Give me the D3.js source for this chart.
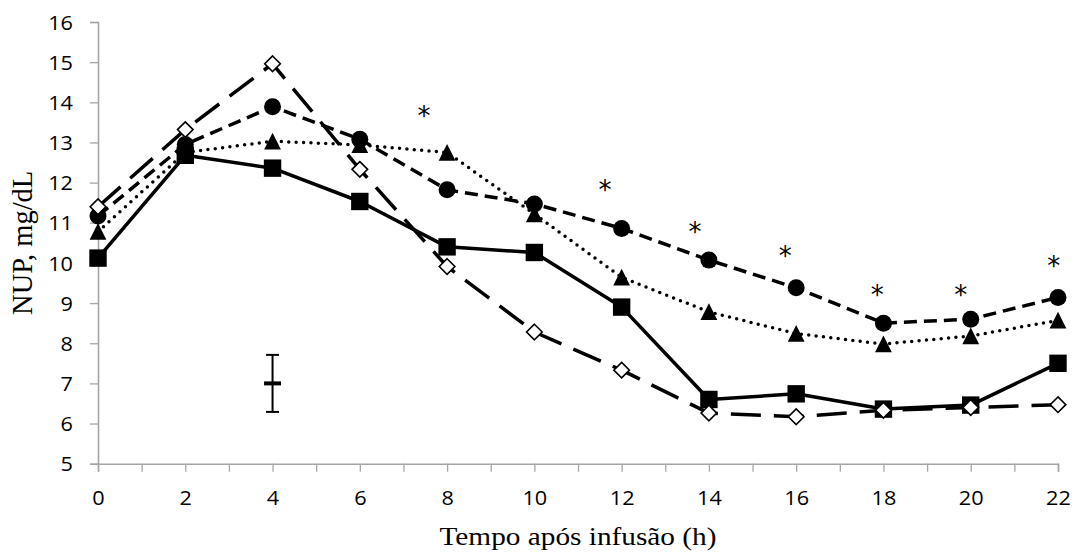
<!DOCTYPE html>
<html>
<head>
<meta charset="utf-8">
<script src="https://cdn.jsdelivr.net/npm/d3@7"></script>
<style>
  html, body { margin: 0; padding: 0; background: #fff; }
  svg { display: block; }
</style>
</head>
<body>
<svg id="chart" width="1079" height="555"></svg>
<script>
// ---- data ----
const times = [0, 2, 4, 6, 8, 10, 12, 14, 16, 18, 20, 22];
const squareSeries   = [10.12, 12.68, 12.36, 11.53, 10.40, 10.26, 8.90, 6.60, 6.74, 6.36, 6.46, 7.50];
const triangleSeries = [10.78, 12.75, 13.03, 12.94, 12.75, 11.22, 9.64, 8.78, 8.24, 7.98, 8.18, 8.57];
const circleSeries   = [11.17, 12.95, 13.89, 13.08, 11.82, 11.47, 10.86, 10.07, 9.38, 8.50, 8.60, 9.14];
const diamondSeries  = [11.40, 13.32, 14.96, 12.33, 9.91, 8.28, 7.33, 6.26, 6.17, 6.33, 6.40, 6.47];
const starTimes  = [7.47, 11.62, 13.68, 15.75, 17.86, 19.77, 21.9];
const starValues = [13.79, 11.95, 10.90, 10.32, 9.33, 9.33, 10.07];
const errorBarTime = 4, errorBarMean = 7.0, errorBarHalf = 0.71;
const xTicks = d3.range(0, 23, 1);
const yTicks = d3.range(5, 17, 1);
const xTitle = "Tempo após infusão (h)";
const yTitle = "NUP, mg/dL";

// ---- layout ----
const svg = d3.select("#chart");
const x = d3.scaleLinear().domain([0, 22]).range([98, 1058]);
const y = d3.scaleLinear().domain([5, 16]).range([463.7, 22]);
const axisColor = "#a6a6a6";
const tickFont = "'Open Sans', 'Lato', sans-serif";

// axes
const gx = svg.append("g").attr("transform", `translate(0,${y(5)})`)
  .call(d3.axisBottom(x).tickValues(xTicks).tickSize(8)
        .tickFormat(d => d % 2 === 0 ? d : ""));
gx.select(".domain").attr("stroke", axisColor).attr("stroke-width", 1.6);
gx.selectAll(".tick line").attr("stroke", axisColor).attr("stroke-width", 1.3);
gx.selectAll(".tick text").attr("y", 41.5).attr("dy", null)
  .attr("font-family", tickFont).attr("font-size", 20.5).attr("fill", "#000")
  .each(function() {
    const t = d3.select(this).text();
    if (t) d3.select(this).attr("textLength", 12.4 * t.length).attr("lengthAdjust", "spacingAndGlyphs");
  });

const gy = svg.append("g").attr("transform", `translate(${x(0)},0)`)
  .call(d3.axisLeft(y).tickValues(yTicks).tickSize(8).tickPadding(17));
gy.select(".domain").attr("stroke", axisColor).attr("stroke-width", 1.6);
gy.selectAll(".tick line").attr("stroke", axisColor).attr("stroke-width", 1.3);
gy.selectAll(".tick text").attr("dy", "0.35em")
  .attr("font-family", tickFont).attr("font-size", 20.5).attr("fill", "#000")
  .each(function() {
    const t = d3.select(this).text();
    d3.select(this).attr("textLength", 12.4 * t.length).attr("lengthAdjust", "spacingAndGlyphs");
  });

// titles
svg.append("text").attr("x", (x(0) + x(22)) / 2).attr("y", 545)
  .attr("text-anchor", "middle")
  .attr("font-family", "'Liberation Serif', 'Times New Roman', serif")
  .attr("font-size", 25.5)
  .attr("textLength", 277).attr("lengthAdjust", "spacingAndGlyphs")
  .text(xTitle);
svg.append("text")
  .attr("transform", `translate(32,${(y(5) + y(16)) / 2}) rotate(-90)`)
  .attr("text-anchor", "middle")
  .attr("font-family", "'Liberation Serif', 'Times New Roman', serif")
  .attr("font-size", 28.5).text(yTitle);

// lines
const line = d3.line().x((d, i) => x(times[i])).y(d => y(d));
const series = [
  { data: squareSeries,   dash: null,      cap: "butt",  marker: "square" },
  { data: triangleSeries, dash: "0 7.4",   cap: "round", marker: "triangle" },
  { data: circleSeries,   dash: "13 7",    cap: "butt",  marker: "circle" },
  { data: diamondSeries,  dash: "30 13",   cap: "butt",  marker: "diamond" }
];

series.forEach(s => {
  svg.append("path").datum(s.data)
    .attr("d", line).attr("fill", "none").attr("stroke", "#000")
    .attr("stroke-width", 3.5)
    .attr("stroke-dasharray", s.dash)
    .attr("stroke-linecap", s.cap)
    .attr("stroke-linejoin", "round");
});

const markerPaths = {
  square: "M-8.7,-8.7H8.7V8.7H-8.7Z",
  triangle: "M0,-8.6L8.4,8.2L-8.4,8.2Z",
  circle: d3.symbol(d3.symbolCircle, Math.PI * 8.5 * 8.5)(),
  diamond: "M0,-7.8L7.8,0L0,7.8L-7.8,0Z"
};

series.forEach(s => {
  svg.append("g").selectAll("path").data(s.data).join("path")
    .attr("transform", (d, i) => `translate(${x(times[i])},${y(d)})`)
    .attr("d", markerPaths[s.marker])
    .attr("fill", s.marker === "diamond" ? "#fff" : "#000")
    .attr("stroke", "#000")
    .attr("stroke-width", s.marker === "diamond" ? 1.6 : 0);
});

// significance asterisks
svg.append("g").selectAll("text").data(starTimes).join("text")
  .attr("x", d => x(d))
  .attr("y", (d, i) => y(starValues[i]))
  .attr("dy", "0.56em")
  .attr("text-anchor", "middle")
  .attr("font-family", "'DejaVu Sans', sans-serif")
  .attr("font-size", 26)
  .attr("fill", "#000")
  .text("*");

// error bar
const eb = svg.append("g");
eb.append("line").attr("x1", x(errorBarTime)).attr("x2", x(errorBarTime))
  .attr("y1", y(errorBarMean - errorBarHalf)).attr("y2", y(errorBarMean + errorBarHalf))
  .attr("stroke", "#000").attr("stroke-width", 2);
[errorBarMean - errorBarHalf, errorBarMean + errorBarHalf].forEach(v => {
  eb.append("line").attr("x1", x(errorBarTime) - 6.5).attr("x2", x(errorBarTime) + 6.5)
    .attr("y1", y(v)).attr("y2", y(v)).attr("stroke", "#000").attr("stroke-width", 2);
});
eb.append("line").attr("x1", x(errorBarTime) - 8.5).attr("x2", x(errorBarTime) + 8.5)
  .attr("y1", y(errorBarMean)).attr("y2", y(errorBarMean))
  .attr("stroke", "#000").attr("stroke-width", 4);
</script>
</body>
</html>
